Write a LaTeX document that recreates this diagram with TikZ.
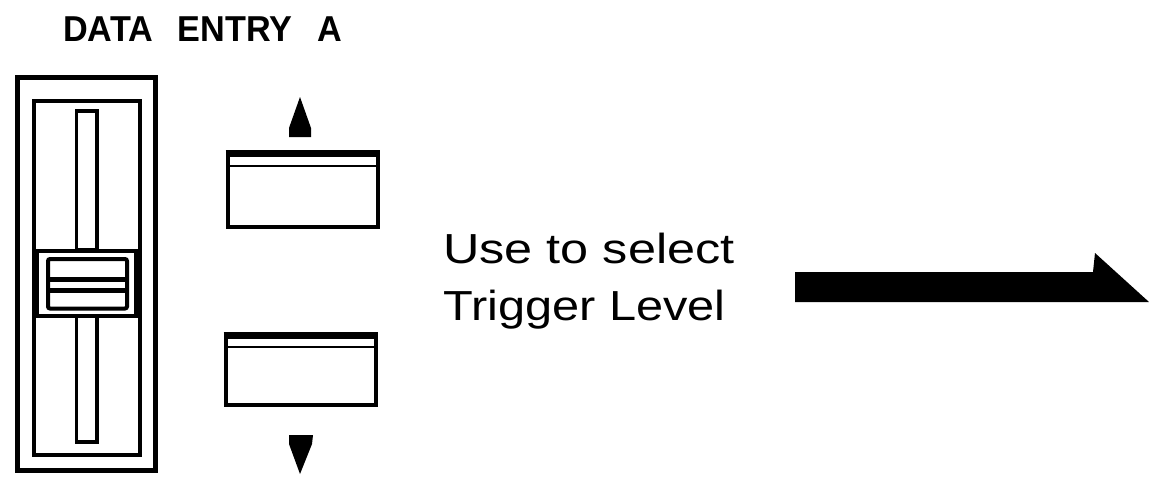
\documentclass[tikz,border=0pt]{standalone}
\usepackage{graphicx}
\usepackage{fontspec}
\setmainfont{Liberation Sans}
\tikzset{
  x=1pt, y=-1pt,
  frameline/.style={draw=black, line width=5pt},
  innerline/.style={draw=black, line width=4pt},
  slotline/.style={draw=black, line width=3.5pt},
  knobbar/.style={draw=black, line width=5pt},
  btnside/.style={draw=black, line width=4pt},
  btntop/.style={draw=black, line width=7pt},
  btnthin/.style={draw=black, line width=2pt},
  solidfill/.style={fill=black, draw=none},
  label/.style={inner sep=0pt, anchor=base west}
}
\begin{document}
\begin{tikzpicture}
\useasboundingbox (0,0) rectangle (1149,480);
% title
\node[label] (title) at (63,41) {\scalebox{0.95}[1]{\fontsize{36}{40}\selectfont\bfseries DATA\hspace{26pt}ENTRY\hspace{26pt}A}};
% slider
\path[frameline] (17.5,77.5) rectangle (155.5,470.5);
\path[innerline] (33.5,100.5) rectangle (139.5,455);
\path[slotline] (76.5,111) -- (76.5,250) -- (97,250) -- (97,111) -- cycle;
\path[slotline] (76.5,316) -- (76.5,442) -- (97,442) -- (97,316) -- cycle;
\path[innerline] (37,250.5) rectangle (136,316);
\path[innerline, rounded corners=2pt] (48,259) rectangle (127,308.5);
\path[knobbar] (48,279) -- (127,279);
\path[knobbar] (48,290) -- (127,290);
% up button
\path[solidfill] (300,97) -- (311,128) -- (311,137) -- (289,137) -- (289,128) -- cycle;
\path[btnside] (227.5,153.5) -- (227.5,227) -- (377.5,227) -- (377.5,153.5);
\path[btntop] (225.5,153.5) -- (379.5,153.5);
\path[btnthin] (227.5,165.5) -- (377.5,165.5);
% down button
\path[btnside] (225.5,335) -- (225.5,405) -- (375.5,405) -- (375.5,335);
\path[btntop] (223.5,335) -- (377.5,335);
\path[btnthin] (225.5,346.5) -- (375.5,346.5);
\path[solidfill] (289,435) -- (313,435) -- (312,444) -- (300,474) -- (289,444) -- cycle;
% text
\node[label] (line1) at (443,263) {\scalebox{1.2}[1]{\fontsize{42}{50}\selectfont Use to select}};
\node[label] (line2) at (443,320) {\scalebox{1.16}[1]{\fontsize{42}{50}\selectfont Trigger Level}};
% big arrow
\path[solidfill] (795,272) -- (1093,272) -- (1095,253) -- (1149,302) -- (795,302) -- cycle;
\end{tikzpicture}
\end{document}
